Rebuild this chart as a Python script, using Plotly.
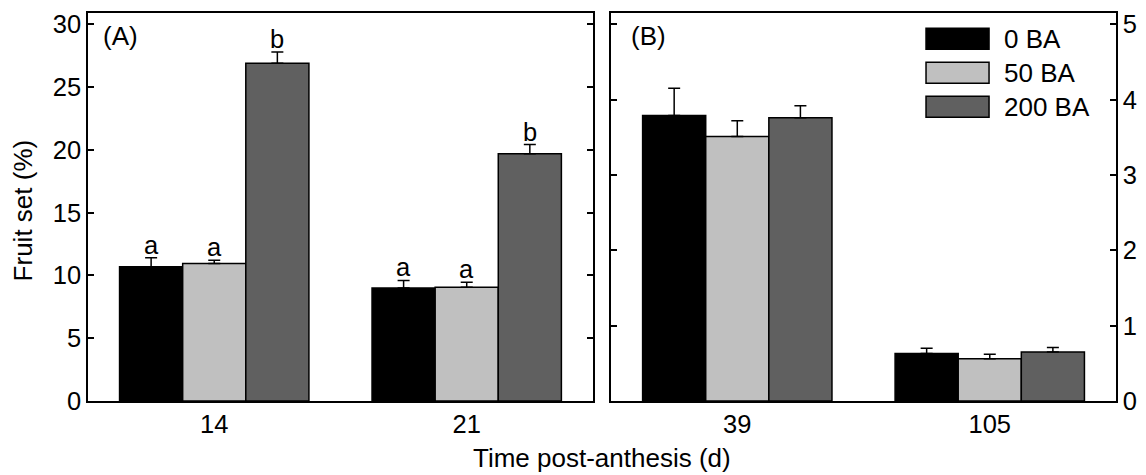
import plotly.graph_objects as go

# ---- data ----
days_A = ["14", "21"]
days_B = ["39", "105"]
series_names = ["0 BA", "50 BA", "200 BA"]
series_colors = ["#000000", "#c0c0c0", "#606060"]

A_0 = [10.7, 9.0]
A_50 = [10.95, 9.05]
A_200 = [26.9, 19.7]
A_err_0 = [0.7, 0.6]
A_err_50 = [0.25, 0.4]
A_err_200 = [0.9, 0.72]
A_letters_0 = ["a", "a"]
A_letters_50 = ["a", "a"]
A_letters_200 = ["b", "b"]

B_0 = [3.79, 0.63]
B_50 = [3.51, 0.56]
B_200 = [3.76, 0.65]
B_err_0 = [0.36, 0.07]
B_err_50 = [0.21, 0.06]
B_err_200 = [0.16, 0.06]

y_ticks_A = [0, 5, 10, 15, 20, 25, 30]
y_ticks_B = [0, 1, 2, 3, 4, 5]

FONT = "Liberation Sans, Arial, Helvetica, sans-serif"
FS = 26
TFS = 25.5

fig = go.Figure()

A_vals = [A_0, A_50, A_200]
A_errs = [A_err_0, A_err_50, A_err_200]
A_letters = [A_letters_0, A_letters_50, A_letters_200]
B_vals = [B_0, B_50, B_200]
B_errs = [B_err_0, B_err_50, B_err_200]

for i in range(3):
    fig.add_trace(go.Bar(
        x=days_A, y=A_vals[i], name=series_names[i],
        marker=dict(color=series_colors[i], line=dict(color="black", width=1.5)),
        error_y=dict(type="data", array=A_errs[i], arrayminus=[0] * len(A_errs[i]),
                     symmetric=False, color="black", thickness=1.5, width=6),
        xaxis="x", yaxis="y", showlegend=False, offsetgroup=str(i)))
    fig.add_trace(go.Bar(
        x=days_B, y=B_vals[i], name=series_names[i],
        marker=dict(color=series_colors[i], line=dict(color="black", width=1.5)),
        error_y=dict(type="data", array=B_errs[i], arrayminus=[0] * len(B_errs[i]),
                     symmetric=False, color="black", thickness=1.5, width=6),
        xaxis="x2", yaxis="y2", showlegend=False, offsetgroup=str(i)))

annotations = []
# significance letters
for i in range(3):
    for k in range(len(days_A)):
        annotations.append(dict(
            x=k + (i - 1) * 0.25, y=A_vals[i][k] + A_errs[i][k], xref="x", yref="y",
            text=A_letters[i][k], showarrow=False, yanchor="bottom",
            font=dict(size=TFS, color="black", family=FONT), yshift=-3))

# panel labels
annotations.append(dict(x=0.032, y=0.94, xref="paper", yref="paper", text="(A)",
                        showarrow=False, xanchor="center", yanchor="middle",
                        font=dict(size=FS, color="black", family=FONT)))
annotations.append(dict(x=0.545, y=0.94, xref="paper", yref="paper", text="(B)",
                        showarrow=False, xanchor="center", yanchor="middle",
                        font=dict(size=FS, color="black", family=FONT)))
# axis titles
annotations.append(dict(x=0.5, y=-0.147, xref="paper", yref="paper",
                        text="Time post-anthesis (d)", showarrow=False,
                        xanchor="center", yanchor="middle", borderpad=0,
                        font=dict(size=FS, color="black", family=FONT)))
annotations.append(dict(x=-0.0637, y=0.49, xref="paper", yref="paper",
                        text="Fruit set (%)", textangle=-90, showarrow=False,
                        xanchor="center", yanchor="middle",
                        font=dict(size=FS, color="black", family=FONT)))

# custom legend
shapes = []
leg_x0, leg_x1 = 0.8152, 0.8765
leg_rows = [(0.9064, 0.9606), (0.8188, 0.8729), (0.7312, 0.7853)]
for i in range(3):
    y0, y1 = leg_rows[i]
    shapes.append(dict(type="rect", xref="paper", yref="paper",
                       x0=leg_x0, x1=leg_x1, y0=y0, y1=y1,
                       fillcolor=series_colors[i], line=dict(color="black", width=1.5)))
    annotations.append(dict(x=0.889, y=(y0 + y1) / 2, xref="paper", yref="paper",
                            text=series_names[i], showarrow=False,
                            xanchor="left", yanchor="middle",
                            font=dict(size=FS, color="black", family=FONT)))

axis_common = dict(showline=True, linecolor="black", linewidth=1.5,
                   showgrid=False, zeroline=False, automargin=False,
                   tickfont=dict(size=TFS, color="black", family=FONT))

fig.update_layout(
    width=1146, height=475,
    margin=dict(l=88, r=30, t=13, b=74),
    paper_bgcolor="white", plot_bgcolor="white",
    barmode="group", bargap=0.25, bargroupgap=0,
    font=dict(family=FONT, size=FS, color="black"),
    xaxis=dict(domain=[0, 0.4912], range=[-0.5, 1.5], type="category",
               mirror=True, ticks="", anchor="y", **axis_common),
    yaxis=dict(range=[0, 30.9], tickvals=y_ticks_A, ticks="inside", ticklen=6,
               tickwidth=1.5, tickcolor="black", mirror="ticks", anchor="x",
               **axis_common),
    xaxis2=dict(domain=[0.5088, 1], range=[-0.5, 1.5], type="category",
                mirror=True, ticks="", anchor="y2", **axis_common),
    yaxis2=dict(range=[0, 5.15], tickvals=y_ticks_B, ticks="inside", ticklen=6,
                tickwidth=1.5, tickcolor="black", mirror="ticks", anchor="x2",
                side="right", **axis_common),
    annotations=annotations,
    shapes=shapes,
)

fig.write_html(
    "out.html",
    config={"displayModeBar": False},
    post_script="document.body.style.margin='0px';document.body.style.overflow='hidden';",
)
